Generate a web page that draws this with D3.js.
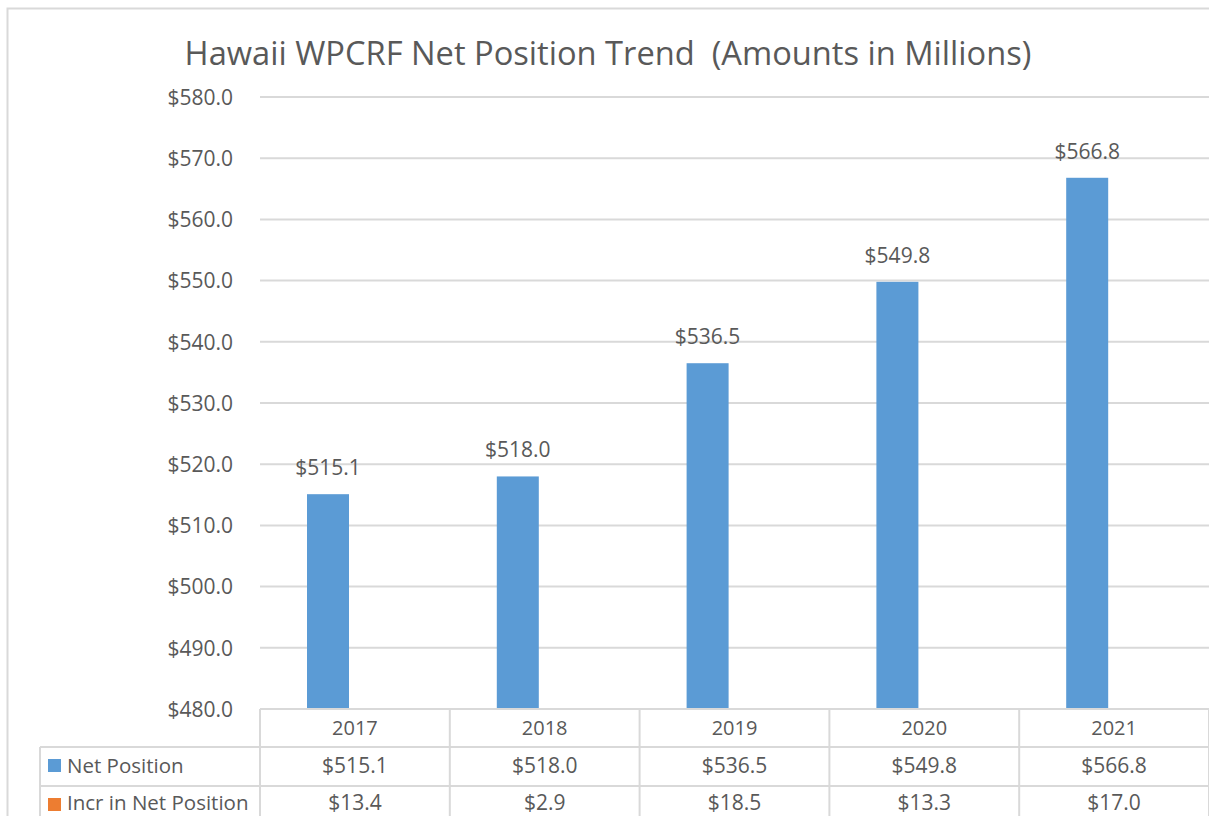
<!DOCTYPE html>
<html>
<head>
<meta charset="utf-8">
<script src="https://cdn.jsdelivr.net/npm/d3@7"></script>
<style>
  html, body { margin: 0; padding: 0; background: #fff; }
  svg { display: block; }
  text { font-family: "Open Sans", "Noto Sans", sans-serif; fill: #595959; }
</style>
</head>
<body>
<svg id="chart" width="1209" height="816"></svg>
<script>
const title = "Hawaii WPCRF Net Position Trend  (Amounts in Millions)";
const categories = ["2017", "2018", "2019", "2020", "2021"];
const seriesNames = ["Net Position", "Incr in Net Position"];
const netPosition = [515.1, 518.0, 536.5, 549.8, 566.8];
const incrNetPosition = [13.4, 2.9, 18.5, 13.3, 17.0];
const yTicks = [480, 490, 500, 510, 520, 530, 540, 550, 560, 570, 580];
const colors = ["#5b9bd5", "#ed7d31"];

const fmt = v => "$" + d3.format(".1f")(v);
const svg = d3.select("#chart");
const W = 1209, H = 816;
const plot = { left: 260, right: 1209, top: 97, bottom: 709 };
const rowH = [38, 39, 39];
const labelColLeft = 40;
const gridColor = "#d9d9d9";
const valueFont = "21px";

// outer frame
svg.append("rect").attr("x", 7.5).attr("y", 8.5).attr("width", W + 20).attr("height", H + 20)
  .attr("fill", "none").attr("stroke", gridColor).attr("stroke-width", 2);

const x0 = d3.scaleBand().domain(categories).range([plot.left, plot.right]).padding(0);
const x1 = d3.scaleBand().domain(seriesNames).range([47, 143]).paddingInner(0.2222).paddingOuter(0);
const y = d3.scaleLinear().domain([480, 580]).range([plot.bottom, plot.top]);

// gridlines
svg.append("g").selectAll("line").data(yTicks.slice(1)).join("line")
  .attr("x1", plot.left).attr("x2", W + 10)
  .attr("y1", d => y(d)).attr("y2", d => y(d))
  .attr("stroke", gridColor).attr("stroke-width", 2);

// y axis labels
const yAxis = d3.axisLeft(y).tickValues(yTicks).tickFormat(fmt).tickSize(0).tickPadding(0);
const yg = svg.append("g").attr("transform", `translate(233,0)`).call(yAxis);
yg.select(".domain").remove();
yg.selectAll("text").style("font-size", valueFont).attr("fill", "#595959")
  .style("font-family", '"Open Sans", sans-serif').attr("dy", "0.35em");

// clip
svg.append("clipPath").attr("id", "plotclip").append("rect")
  .attr("x", plot.left).attr("y", plot.top - 50).attr("width", plot.right - plot.left).attr("height", plot.bottom - plot.top + 50);

const seriesData = [netPosition, incrNetPosition];
const bars = svg.append("g").attr("clip-path", "url(#plotclip)");
seriesData.forEach((vals, si) => {
  bars.selectAll(null).data(vals).join("rect")
    .attr("x", (d, i) => x0(categories[i]) + x1(seriesNames[si]))
    .attr("width", x1.bandwidth())
    .attr("y", d => Math.min(y(d), plot.bottom))
    .attr("height", d => Math.max(0, plot.bottom - y(d)))
    .attr("fill", colors[si]);
});

// data labels for net position
svg.append("g").selectAll("text").data(netPosition).join("text")
  .attr("x", (d, i) => x0(categories[i]) + x1(seriesNames[0]) + x1.bandwidth() / 2)
  .attr("y", d => y(d) - 19)
  .attr("text-anchor", "middle")
  .style("font-size", valueFont)
  .attr("fill", "#404040")
  .text(fmt);

// data table
const tbl = svg.append("g");
const r0 = plot.bottom, r1 = r0 + rowH[0], r2 = r1 + rowH[1];
tbl.append("line").attr("x1", plot.left).attr("x2", W + 10).attr("y1", r0).attr("y2", r0);
tbl.append("line").attr("x1", labelColLeft).attr("x2", W + 10).attr("y1", r1).attr("y2", r1);
tbl.append("line").attr("x1", labelColLeft).attr("x2", W + 10).attr("y1", r2).attr("y2", r2);
tbl.append("line").attr("x1", labelColLeft).attr("x2", labelColLeft).attr("y1", r1).attr("y2", H + 10);
const bounds = categories.map(c => x0(c)).concat([plot.right]);
tbl.selectAll(null).data(bounds).join("line")
  .attr("x1", d => d).attr("x2", d => d).attr("y1", r0).attr("y2", H + 10);
tbl.selectAll("line").attr("stroke", gridColor).attr("stroke-width", 2);

// header (categories)
tbl.selectAll(null).data(categories).join("text")
  .attr("x", d => x0(d) + x0.bandwidth() / 2)
  .attr("y", r0 + 26)
  .attr("text-anchor", "middle").style("font-size", "20px").text(d => d);

// rows
seriesData.forEach((vals, si) => {
  const top = si === 0 ? r1 : r2;
  const base = si === 0 ? top + 26 : top + 24;
  tbl.append("rect").attr("x", 48).attr("y", top + 12).attr("width", 13).attr("height", 13).attr("fill", colors[si]);
  tbl.append("text").attr("x", 67).attr("y", base).style("font-size", "20.5px").text(seriesNames[si]);
  tbl.selectAll(null).data(vals).join("text")
    .attr("x", (d, i) => x0(categories[i]) + x0.bandwidth() / 2)
    .attr("y", base)
    .attr("text-anchor", "middle").style("font-size", valueFont).text(fmt);
});

// title, fitted to reference width
const t = svg.append("text").attr("x", 608).attr("y", 65).attr("text-anchor", "middle")
  .style("font-size", "28px").attr("fill", "#595959").style("white-space", "pre")
  .attr("xml:space", "preserve").text(title);
const tw = t.node().getComputedTextLength();
t.style("font-size", (28 * 847 / tw).toFixed(2) + "px");
</script>
</body>
</html>
